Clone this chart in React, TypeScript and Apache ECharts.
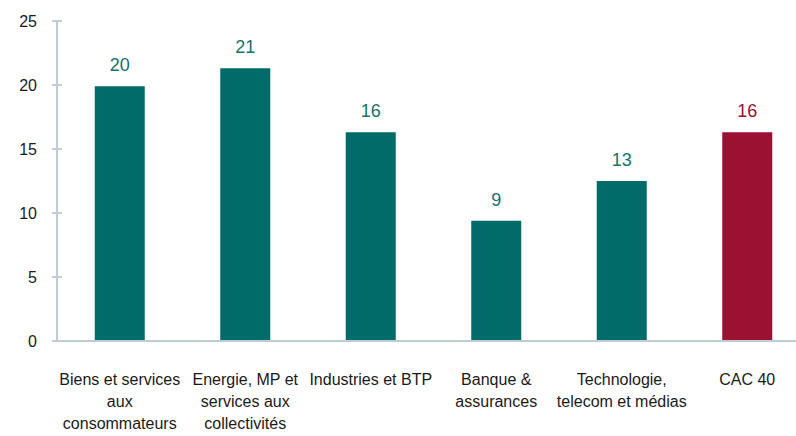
import React, { useEffect, useRef } from "react";
import * as echarts from "echarts";

const categories = [
  "Biens et services\naux\nconsommateurs",
  "Energie, MP et\nservices aux\ncollectivités",
  "Industries et BTP",
  "Banque &\nassurances",
  "Technologie,\ntelecom et médias",
  "CAC 40",
];
const values = [19.9, 21.3, 16.3, 9.4, 12.5, 16.3];
const barColors = ["#006B68", "#006B68", "#006B68", "#006B68", "#006B68", "#9B1132"];
const labelColors = ["#17716E", "#17716E", "#17716E", "#17716E", "#17716E", "#9B1132"];
const yTicks = { min: 0, max: 25, interval: 5 };

const FONT = "'Liberation Sans Narrow', 'Arial Narrow', 'Liberation Sans', Arial, sans-serif";

export default function App() {
  const ref = useRef<HTMLDivElement>(null);
  useEffect(() => {
    if (!ref.current) return;
    const chart = echarts.init(ref.current, undefined, { renderer: "svg" });
    chart.setOption({
      animation: false,
      backgroundColor: "#ffffff",
      grid: { left: 57, top: 21, right: 0, bottom: 95 },
      xAxis: {
        type: "category",
        data: categories,
        axisLine: { show: true, lineStyle: { color: "#BFCBD5", width: 2 } },
        axisTick: { show: false },
        axisLabel: {
          interval: 0,
          margin: 27,
          color: "#1a1a1a",
          fontFamily: FONT,
          fontSize: 16,
          lineHeight: 22,
        },
        z: 10,
      },
      yAxis: [
        {
          type: "value",
          min: yTicks.min,
          max: yTicks.max,
          interval: yTicks.interval,
          splitLine: { show: false },
          axisLine: { show: true, lineStyle: { color: "#BFCBD5", width: 2 } },
          axisTick: { show: true, length: 5, lineStyle: { color: "#BFCBD5", width: 2 } },
          axisLabel: {
            margin: 20,
            color: "#1a1a1a",
            fontFamily: "'Liberation Sans', Arial, sans-serif",
            fontSize: 16,
          },
        },
        {
          type: "value",
          position: "left",
          min: yTicks.min,
          max: yTicks.max,
          interval: yTicks.interval,
          splitLine: { show: false },
          axisLine: { show: false },
          axisTick: { show: true, inside: true, length: 5, lineStyle: { color: "#BFCBD5", width: 2 } },
          axisLabel: { show: false },
        },
      ],
      series: [
        {
          type: "bar",
          barWidth: 50,
          data: values.map((v, i) => ({
            value: v,
            itemStyle: { color: barColors[i] },
            label: { color: labelColors[i] },
          })),
          label: {
            show: true,
            position: "top",
            distance: 12,
            fontFamily: FONT,
            fontSize: 18,
            formatter: (p: any) => String(Math.round(p.value)),
          },
        },
      ],
    });
    return () => chart.dispose();
  }, []);
  return (
    <div style={{ width: 796, height: 436, position: "absolute", left: 0, top: 0, overflow: "hidden", background: "#fff" }}>
      <div ref={ref} style={{ width: 810, height: 436 }} />
    </div>
  );
}
